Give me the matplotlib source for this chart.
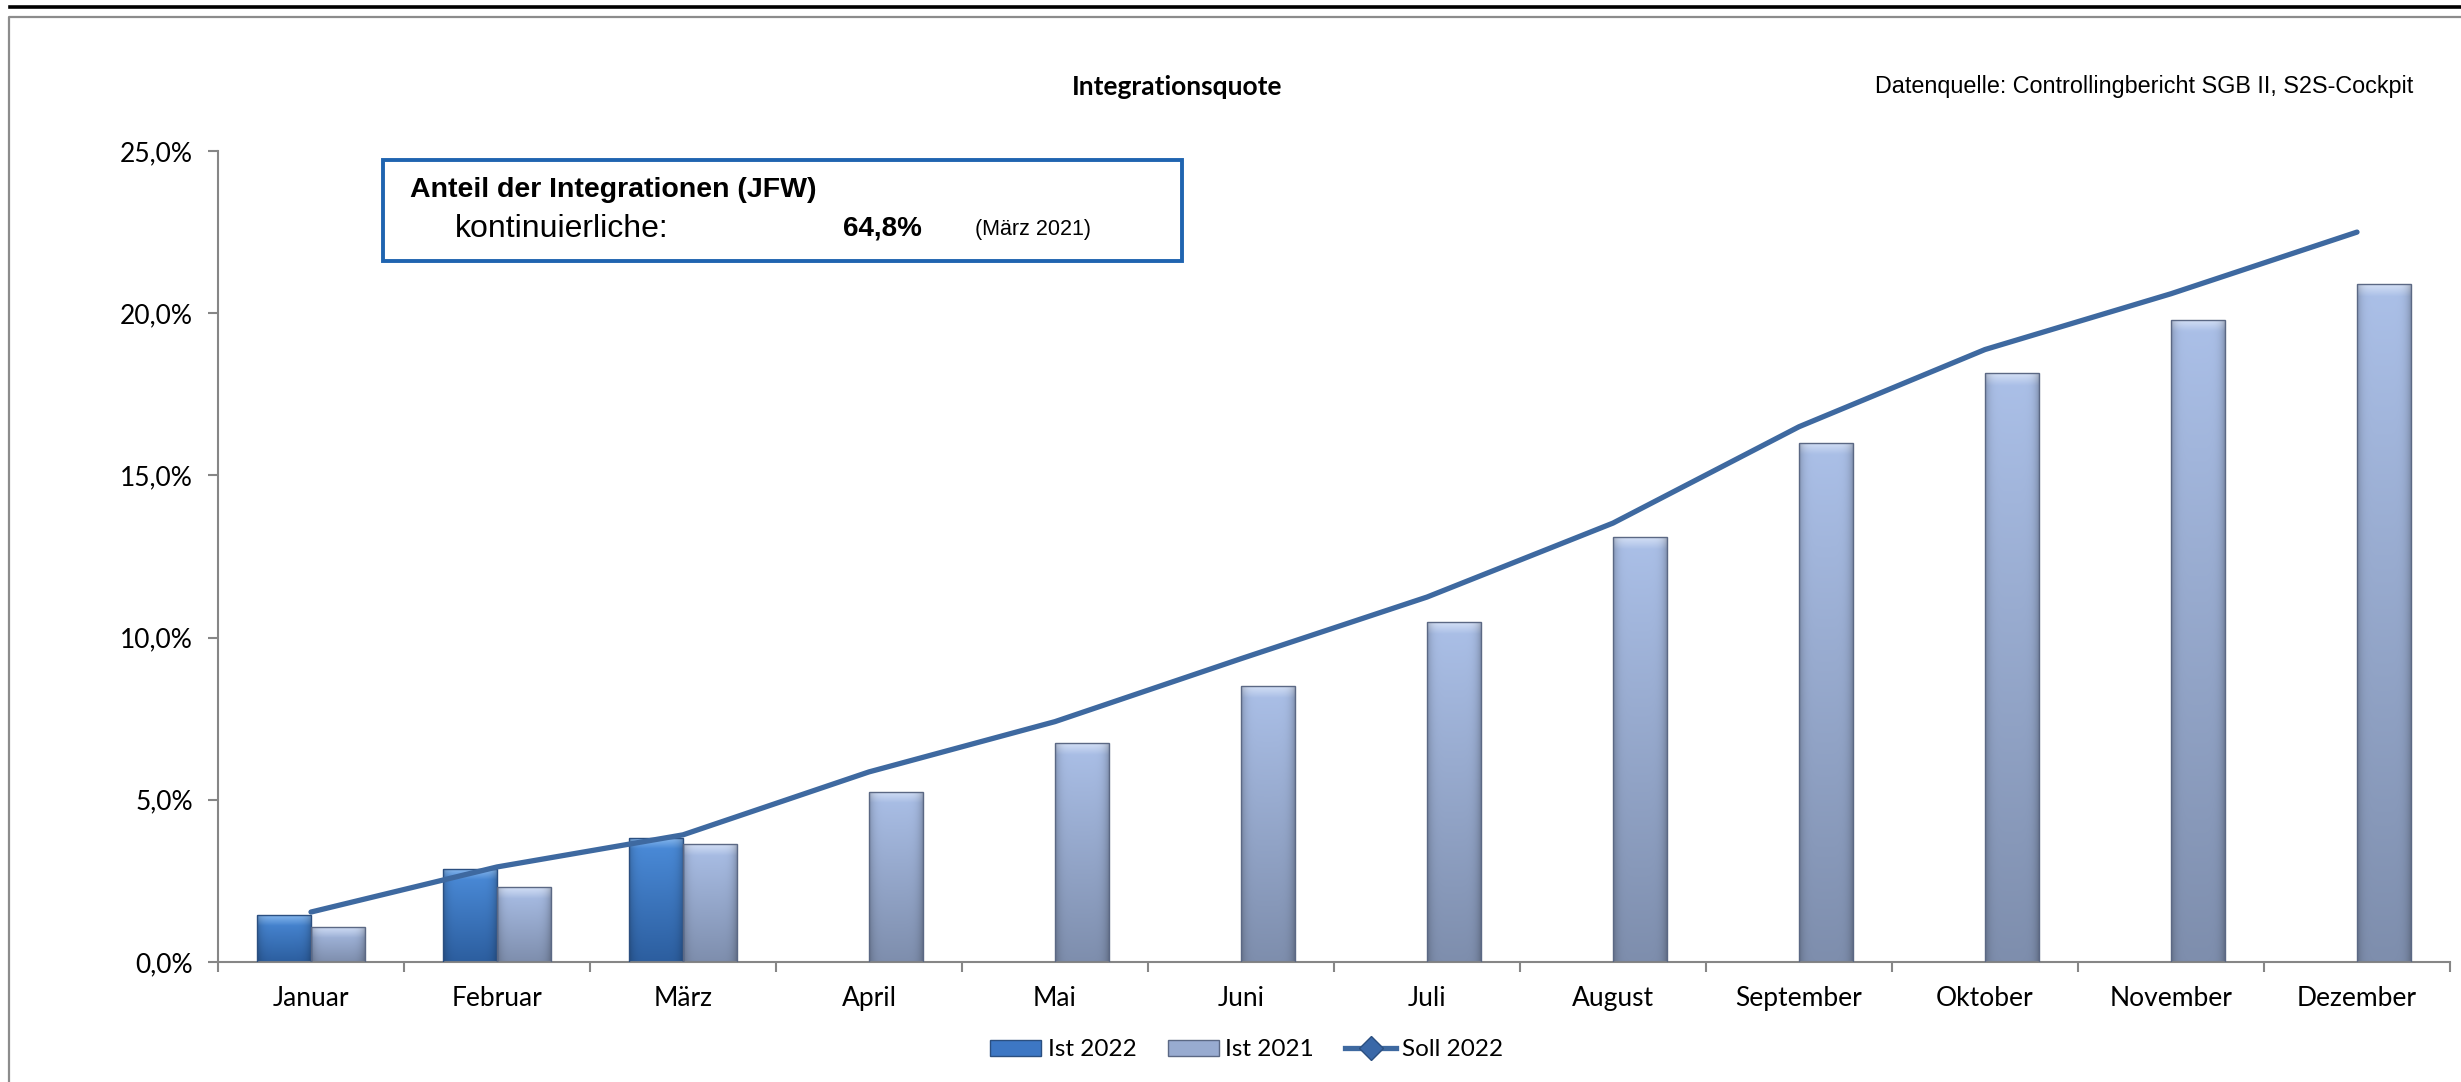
import numpy as np
import matplotlib
matplotlib.use('Agg')
import matplotlib.pyplot as plt
from matplotlib.colors import to_rgb
from matplotlib.lines import Line2D
from matplotlib.patches import Patch, Rectangle
from matplotlib.ticker import FuncFormatter, FixedLocator, NullFormatter

# Daten (in Prozent)
monate = ['Januar', 'Februar', 'März', 'April', 'Mai', 'Juni', 'Juli',
          'August', 'September', 'Oktober', 'November', 'Dezember']
ist_2022 = [1.45, 2.88, 3.83]
ist_2021 = [1.08, 2.30, 3.63, 5.25, 6.75, 8.50, 10.48, 13.10, 16.00, 18.15, 19.80, 20.90]
soll_2022 = [1.54, 2.93, 3.92, 5.86, 7.41, 9.35, 11.25, 13.53, 16.50, 18.88, 20.60, 22.50]
y_ticks = [0, 5, 10, 15, 20, 25]

W, H = 2461, 1082
CAL = 'Lato'
ARIAL = 'Liberation Sans'


def fx(x):
    return x / W


def fy(y):
    return 1 - y / H


def bar_gradient(ax, bars, top, bottom, bevel):
    # Farbverlauf in jeden Balken legen (Excel-Optik)
    top = np.array(to_rgb(top))
    bottom = np.array(to_rgb(bottom))
    for b in bars:
        x0, y0 = b.get_x(), b.get_y()
        x1, y1 = x0 + b.get_width(), y0 + b.get_height()
        ys = np.linspace(y1, y0, 300)
        t = (y1 - ys) / max(y1 - y0, 1e-9)
        col = top[None, :] * (1 - t[:, None]) + bottom[None, :] * t[:, None]
        # heller Rand oben
        d = (y1 - ys) / 0.35
        hl = np.clip(1 - d, 0, 1) * 0.55
        col = col * (1 - hl[:, None]) + np.array(bevel)[None, :] * hl[:, None]
        h = np.linspace(-1, 1, 60)
        shade = 1 - 0.22 * np.abs(h) ** 6
        img = col[:, None, :] * shade[None, :, None]
        im = ax.imshow(np.clip(img, 0, 1), extent=(x0, x1, y0, y1), origin='upper',
                       aspect='auto', zorder=2, interpolation='bilinear')
        im.set_clip_path(b)
        b.set_facecolor('none')


fig = plt.figure(figsize=(W / 100, H / 100), dpi=100)

# Rahmen oben/links und schwarze Linie
fig.add_artist(Line2D([fx(10), 1], [fy(7), fy(7)], color='black', lw=2.6))
fig.add_artist(Line2D([fx(9), fx(9), 1], [0, fy(17), fy(17)], color='#8c8c8c', lw=1.6))

ax = fig.add_axes([fx(218), fy(962), fx(2450) - fx(218), fy(151) - fy(962)])

x = np.arange(len(monate))
bw = 0.29
b22 = ax.bar(x[:len(ist_2022)] - bw / 2, ist_2022, bw, edgecolor='#2b4f80', lw=1.0, zorder=3)
b21 = ax.bar(x + bw / 2, ist_2021, bw, edgecolor='#5b6884', lw=1.0, zorder=3)
bar_gradient(ax, b22, '#4c8ddb', '#2c5e9f', (0.75, 0.88, 1.0))
bar_gradient(ax, b21, '#abc0e8', '#7e8ead', (0.95, 0.97, 1.0))

ax.plot(x, soll_2022, color='#3e69a0', lw=3.8, zorder=5, solid_capstyle='round')

ax.set_xlim(-0.5, len(monate) - 0.5)
ax.set_ylim(0, 25)

for s in ['top', 'right']:
    ax.spines[s].set_visible(False)
for s in ['left', 'bottom']:
    ax.spines[s].set_color('#868686')
    ax.spines[s].set_linewidth(1.5)

ax.set_yticks(y_ticks)
ax.yaxis.set_major_formatter(FuncFormatter(lambda v, p: f'{v:.1f}%'.replace('.', ',')))
ax.tick_params(axis='y', length=7, width=1.5, color='#868686', pad=11, labelsize=19)
ax.set_xticks(x)
ax.set_xticklabels(monate)
ax.xaxis.set_minor_locator(FixedLocator(np.arange(-0.5, len(monate), 1.0)))
ax.xaxis.set_minor_formatter(NullFormatter())
ax.tick_params(axis='x', which='major', length=0, pad=17, labelsize=19)
ax.tick_params(axis='x', which='minor', length=7, width=1.5, color='#868686')
for lab in ax.get_xticklabels() + ax.get_yticklabels():
    lab.set_fontfamily(CAL)

# Titel und Quelle
fig.text(fx(1177), fy(87), 'Integrationsquote', family=CAL, fontweight='bold',
         fontsize=19, ha='center', va='center')
fig.text(fx(2413), fy(86), 'Datenquelle: Controllingbericht SGB II, S2S-Cockpit',
         family=ARIAL, fontsize=16.8, ha='right', va='center')

# Infokasten
fig.add_artist(Rectangle((fx(383), fy(261)), fx(1182) - fx(383), fy(160) - fy(261),
                         transform=fig.transFigure, fill=False, edgecolor='#1f64b0', lw=2.8))
fig.text(fx(410), fy(190), 'Anteil der Integrationen (JFW)', family=ARIAL,
         fontweight='bold', fontsize=20.5, va='center')
fig.text(fx(455), fy(229), 'kontinuierliche:', family=ARIAL, fontsize=23, va='center')
fig.text(fx(843), fy(229), '64,8%', family=ARIAL, fontweight='bold', fontsize=20, va='center')
fig.text(fx(975), fy(230), '(März 2021)', family=ARIAL, fontsize=15.5, va='center')

# Legende
handles = [Patch(facecolor='#3d77c4', edgecolor='#2b4f80', label='Ist 2022'),
           Patch(facecolor='#98abd0', edgecolor='#5b6884', label='Ist 2021'),
           Line2D([0], [0], color='#3e69a0', lw=3.8, marker='D', markersize=12,
                  markerfacecolor='#3a68a8', markeredgecolor='#2b4f80', label='Soll 2022')]
fig.legend(handles=handles, loc='center', bbox_to_anchor=(fx(1247), fy(1050)), ncol=3,
           frameon=False, prop={'family': CAL, 'size': 17.5}, handlelength=2.1,
           handleheight=0.65, handletextpad=0.25, columnspacing=1.3)

fig.savefig('out.png', dpi=100)
